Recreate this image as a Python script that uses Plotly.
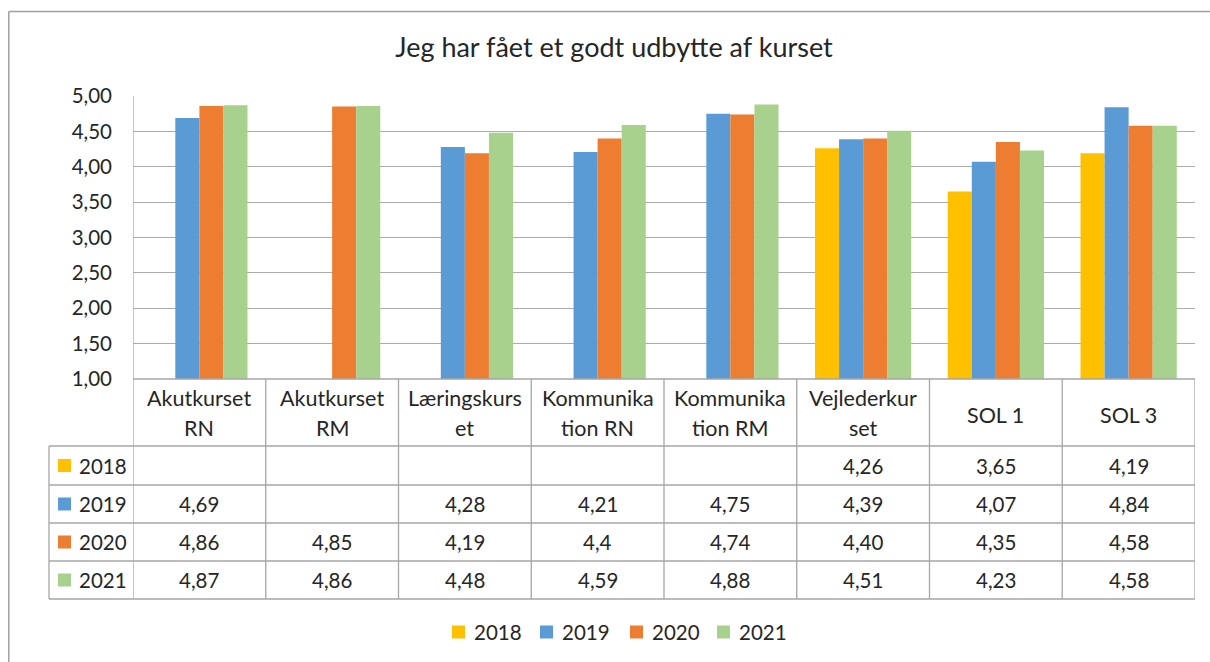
import plotly.graph_objects as go

# ---------------- data ----------------
categories = ["Akutkurset<br>RN", "Akutkurset<br>RM", "Læringskurs<br>et",
              "Kommunika<br>tion RN", "Kommunika<br>tion RM", "Vejlederkur<br>set",
              "SOL 1", "SOL 3"]
years = ["2018", "2019", "2020", "2021"]
v2018 = [None, None, None, None, None, "4,26", "3,65", "4,19"]
v2019 = ["4,69", None, "4,28", "4,21", "4,75", "4,39", "4,07", "4,84"]
v2020 = ["4,86", "4,85", "4,19", "4,4", "4,74", "4,40", "4,35", "4,58"]
v2021 = ["4,87", "4,86", "4,48", "4,59", "4,88", "4,51", "4,23", "4,58"]
colors = ["#FFC000", "#5B9BD5", "#ED7D31", "#A9D18E"]
series = [v2018, v2019, v2020, v2021]
y_ticks = [1.0, 1.5, 2.0, 2.5, 3.0, 3.5, 4.0, 4.5, 5.0]

# ---------------- geometry helpers (layout only) ----------------
OFF = 0  # body margin removed via post_script
FW, FH = 1210, 662
L, T, W, H = 133 - OFF, 96 - OFF, 1062, 283
def px(x):  # screen pixel x -> paper
    return (x - OFF - L) / W
def py(y):  # screen pixel y -> paper
    return (T + H - (y - OFF)) / H

FONT = "Lato"
TXT = "#262626"
GRID = "#ABABAB"
LINE = "#A6A6A6"

def num(s):
    return None if s is None else float(s.replace(",", "."))

fig = go.Figure()
for yr, vals, col in zip(years, series, colors):
    fig.add_trace(go.Bar(name=yr, x=categories, y=[num(v) for v in vals],
                         marker=dict(color=col, line=dict(width=0)), showlegend=False))

shapes = []
annotations = []

row_edges = [446, 485, 523, 561, 599]
header_top = 379
legend_left = 49
n = len(categories)

for i in range(n + 1):
    shapes.append(dict(type="line", xref="x", yref="paper", x0=i - 0.5, x1=i - 0.5,
                       y0=py(row_edges[-1]), y1=py(header_top) if i > 0 else 1,
                       line=dict(color=LINE, width=1.3)))
shapes.append(dict(type="line", xref="paper", yref="paper", x0=px(legend_left), x1=px(legend_left),
                   y0=py(row_edges[-1]), y1=py(row_edges[0]), line=dict(color=LINE, width=1.3)))
shapes.append(dict(type="line", xref="paper", yref="paper", x0=0, x1=1,
                   y0=py(header_top), y1=py(header_top), line=dict(color=LINE, width=1.3)))
for ry in row_edges:
    shapes.append(dict(type="line", xref="paper", yref="paper", x0=px(legend_left), x1=1,
                       y0=py(ry), y1=py(ry), line=dict(color=LINE, width=1.3)))

# outer chart border (left + top visible)
shapes.append(dict(type="line", xref="paper", yref="paper", x0=px(8.8), x1=px(8.8),
                   y0=py(700), y1=py(11.5), line=dict(color="#A0A0A0", width=1.5)))
shapes.append(dict(type="line", xref="paper", yref="paper", x0=px(8.8), x1=px(1250),
                   y0=py(11.5), y1=py(11.5), line=dict(color="#A0A0A0", width=1.5)))

# header cells
hc = (header_top + row_edges[0]) / 2
for c in categories:
    parts = c.split("<br>")
    ys = [hc + 2] if len(parts) == 1 else [hc - 14.5, hc + 15.5]
    for part, yy in zip(parts, ys):
        annotations.append(dict(x=c, xref="x", y=py(yy), yref="paper", text=part,
                                showarrow=False, xanchor="center", yanchor="middle",
                                font=dict(family=FONT, size=21.5, color=TXT)))

# data cells + legend column
for r, (yr, vals, col) in enumerate(zip(years, series, colors)):
    cy = (row_edges[r] + row_edges[r + 1]) / 2
    shapes.append(dict(type="rect", xref="paper", yref="paper", x0=px(58), x1=px(71),
                       y0=py(cy + 6.5), y1=py(cy - 6.5), fillcolor=col, line=dict(width=0)))
    annotations.append(dict(x=px(77), xref="paper", y=py(cy), yref="paper", text=yr,
                            showarrow=False, xanchor="left", yanchor="middle",
                            font=dict(family=FONT, size=20.5, color=TXT)))
    for c, v in zip(categories, vals):
        if v is None:
            continue
        annotations.append(dict(x=c, xref="x", y=py(cy), yref="paper", text=v,
                                showarrow=False, xanchor="center", yanchor="middle",
                                font=dict(family=FONT, size=20.5, color=TXT)))

# bottom legend
leg_sq = [452, 540, 630, 717]
leg_y = 632
for xs, yr, col in zip(leg_sq, years, colors):
    shapes.append(dict(type="rect", xref="paper", yref="paper", x0=px(xs), x1=px(xs + 13),
                       y0=py(leg_y + 6.5), y1=py(leg_y - 6.5), fillcolor=col, line=dict(width=0)))
    annotations.append(dict(x=px(xs + 20), xref="paper", y=py(leg_y), yref="paper", text=yr,
                            showarrow=False, xanchor="left", yanchor="middle",
                            font=dict(family=FONT, size=20.5, color=TXT)))

fig.update_layout(
    width=FW, height=FH,
    margin=dict(l=L, r=FW - L - W, t=T, b=FH - T - H, autoexpand=False),
    paper_bgcolor="white", plot_bgcolor="white",
    separators=",.",
    barmode="group", bargap=0.275, bargroupgap=0,
    title=dict(text="Jeg har fået et godt udbytte af kurset", x=(614 - OFF) / FW, xref="container",
               xanchor="center", y=1 - (48 - OFF) / FH, yref="container", yanchor="middle",
               font=dict(family=FONT, size=27, color=TXT)),
    xaxis=dict(showticklabels=False, showgrid=False, zeroline=False, showline=False,
               range=[-0.5, n - 0.5], fixedrange=True),
    yaxis=dict(range=[1, 5], tickvals=y_ticks, tickformat=".2f", showgrid=True,
               gridcolor=GRID, gridwidth=1.3, zeroline=False, showline=False,
               ticks="", ticklabelstandoff=20,
               tickfont=dict(family=FONT, size=20.5, color=TXT)),
    shapes=shapes, annotations=annotations,
    showlegend=False,
)

fig.write_html("out.html", config={"displayModeBar": False},
               post_script="document.body.style.margin='0px';document.body.style.overflow='hidden';")
